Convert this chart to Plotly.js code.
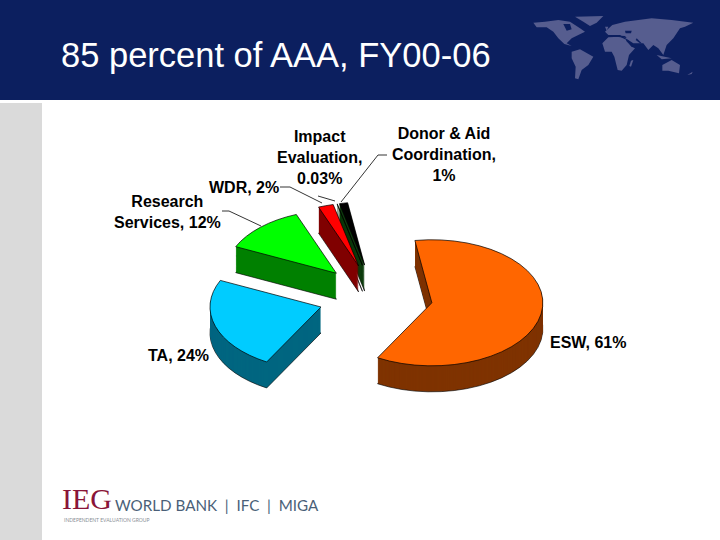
<!DOCTYPE html>
<html><head><meta charset="utf-8">
<script src="https://cdn.plot.ly/plotly-3.0.1.min.js"></script>
<style>html,body{margin:0;padding:0;background:#fff}#c{width:720px;height:540px}</style>
</head><body><div id="c"></div>
<script>
// ---- data ----
const categories = ["ESW","TA","Research Services","WDR","Impact Evaluation","Donor & Aid Coordination"];
const shareValues = [60.6,23.8,12.2,2.2,0.03,1.2];
const faceColors = ["#FF6600","#00CCFF","#00FF00","#FF0000","#006600","#000000"];
const sideColors = ["#7F3300","#006680","#008000","#800000","#003300","#0F3D0F"];
const titleText = "85 percent of AAA, FY00-06";
const sliceLabels = [
  ["ESW, 61%",588,342],
  ["TA, 24%",178,355],
  ["Research<br>Services, 12%",167,212],
  ["WDR, 2%",244,187],
  ["Impact<br>Evaluation,<br>0.03%",319,157],
  ["Donor &amp; Aid<br>Coordination,<br>1%",444,155]
];
const leaderLines = [
  [[387,155],[378,155],[341,202]],
  [[280,187],[290,187],[322,203]],
  [[222,211],[229,211],[261,226]],
  [[318,196],[335,201]]
];
const landMasses = [
  [[25,38],[60,35],[100,30],[135,35],[150,45],[165,55],[180,65],[160,75],[140,85],[125,100],[140,108],[118,102],[100,85],[85,65],[65,52],[35,52]],
  [[150,20],[235,18],[215,38],[195,48],[175,35]],
  [[140,125],[165,118],[205,140],[190,165],[170,180],[160,208],[150,205],[152,170],[140,145]],
  [[232,100],[250,82],[285,80],[305,90],[320,110],[330,115],[312,135],[305,165],[290,182],[278,180],[268,140],[260,125],[240,125]],
  [[240,65],[262,45],[300,35],[380,25],[440,30],[505,38],[480,50],[465,55],[445,85],[425,105],[415,135],[400,115],[385,105],[370,120],[355,100],[325,100],[310,90],[285,75],[250,75]],
  [[412,165],[440,150],[465,165],[462,190],[430,182],[412,182]],
  [[318,152],[325,150],[318,170],[313,168]],
  [[487,195],[503,185],[500,192]],
  [[395,135],[440,145],[410,148]],
  [[240,50],[250,50],[245,62]]
];
const waterCuts = [
  [[115,42],[135,42],[140,58],[125,62]],
  [[250,75],[300,78],[305,84],[275,80],[250,80]],
  [[300,62],[320,62],[318,70],[302,70]],
  [[305,88],[325,108],[320,110],[303,92]],
  [[335,85],[350,100],[345,100],[332,90]]
];
// ---- layout constants ----
const W=720,H=540;
const pullAmt=0.516, radius=111, flatten=0.568, depth=26;
const cx=375.5, cy=297, midY=270, half=radius*(1+pullAmt);
const px=x=>x/W, py=y=>1-y/H;

function pieLayer(dPx,colors,lineW){
  const yc=midY+dPx/flatten;
  return {type:"pie",labels:categories,values:shareValues,sort:false,direction:"clockwise",rotation:-8.8,
    pull:pullAmt,textinfo:"none",hoverinfo:"skip",showlegend:false,
    marker:{colors:colors,line:{color:"#000",width:lineW}},
    domain:{x:[px(cx-half),px(cx+half)],y:[1-(yc+half)/H,1-(yc-half)/H]}};
}
const traces=[];
traces.push(pieLayer(depth,sideColors,0.8));
for(let d=depth-1;d>=1;d--) traces.push(pieLayer(d,sideColors,0));
traces.push(pieLayer(0,faceColors,0.9));

const shapes=[
  {type:"rect",xref:"paper",yref:"paper",x0:0,x1:1,y0:py(100),y1:1,fillcolor:"#0C1F5F",line:{width:0},layer:"below"},
  {type:"rect",xref:"paper",yref:"paper",x0:0,x1:px(42),y0:0,y1:py(103),fillcolor:"#DADADA",line:{width:0},layer:"below"}
];
const mapPath=p=>p.map((q,i)=>(i?"L":"M")+px(525+q[0]/3)+","+py(10+q[1]/3)).join(" ")+" Z";
landMasses.forEach(p=>shapes.push({type:"path",xref:"paper",yref:"paper",path:mapPath(p),fillcolor:"#565D8F",line:{width:0},layer:"below"}));
waterCuts.forEach(p=>shapes.push({type:"path",xref:"paper",yref:"paper",path:mapPath(p),fillcolor:"#0C1F5F",line:{width:0},layer:"below"}));
leaderLines.forEach(p=>{
  const path=p.map((q,i)=>(i?"L":"M")+px(q[0])+","+py(q[1])).join(" ");
  shapes.push({type:"path",xref:"paper",yref:"paper",path:path,line:{color:"#000",width:0.8}});
});

const annotations=sliceLabels.map(l=>({text:"<b>"+l[0]+"</b>",xref:"paper",yref:"paper",x:px(l[1]),y:py(l[2]),
  xanchor:"center",yanchor:"middle",showarrow:false,font:{family:"Liberation Sans",size:16,color:"#000"},align:"center"}));
annotations.push(
 {text:"IEG",xref:"paper",yref:"paper",x:px(60),y:py(498),xanchor:"left",yanchor:"middle",showarrow:false,font:{family:"Liberation Serif",size:30,color:"#8A1538"}},
 {text:"WORLD BANK  |  IFC  |  MIGA",xref:"paper",yref:"paper",x:px(113),y:py(505),xanchor:"left",yanchor:"middle",showarrow:false,font:{family:"Lato",size:15.2,color:"#4A5F78"}},
 {text:"INDEPENDENT EVALUATION GROUP",xref:"paper",yref:"paper",x:px(62),y:py(520),xanchor:"left",yanchor:"middle",showarrow:false,font:{family:"Lato",size:5,color:"#8A8F96"}}
);

const layout={width:W,height:H,margin:{l:0,r:0,t:0,b:0,pad:0},paper_bgcolor:"#fff",plot_bgcolor:"#fff",showlegend:false,
  title:{text:titleText,x:px(61),xanchor:"left",xref:"paper",y:py(55),yanchor:"middle",yref:"container",font:{family:"Liberation Sans",size:34.5,color:"#fff"}},
  shapes:shapes,annotations:annotations};

Plotly.newPlot("c",traces,layout,{displayModeBar:false,staticPlot:true}).then(gd=>{
  const g=gd.querySelector(".pielayer");
  g.setAttribute("transform","translate(0,"+(cy-flatten*midY)+") scale(1,"+flatten+")");
});
</script></body></html>
